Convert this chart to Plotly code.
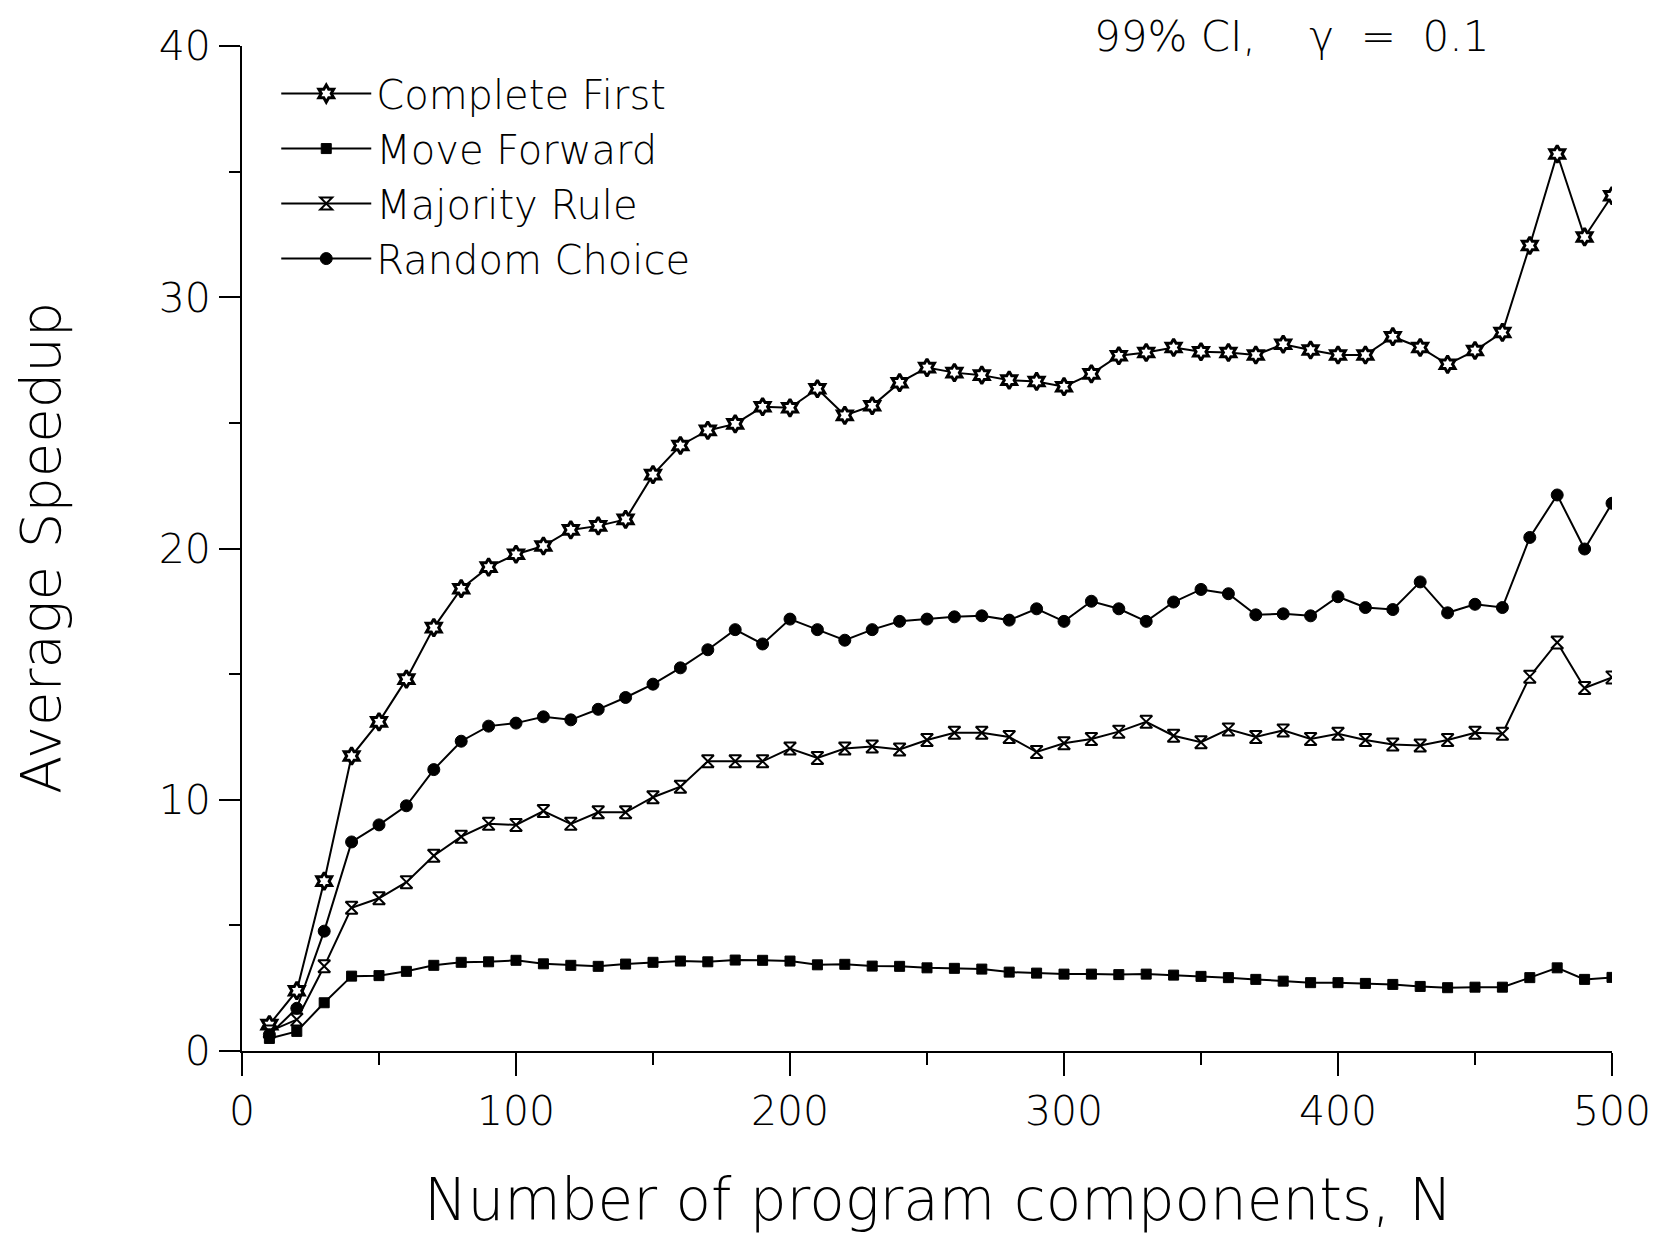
import plotly.graph_objects as go

# Number of program components
n_components = list(range(10, 501, 10))

complete_first = [
    1.05, 2.4, 6.76, 11.74, 13.1, 14.8, 16.85, 18.4, 19.26, 19.77,
    20.1, 20.74, 20.9, 21.16, 22.94, 24.1, 24.7, 24.96, 25.64, 25.6,
    26.36, 25.3, 25.68, 26.6, 27.2, 27.0, 26.9, 26.7, 26.65, 26.44,
    26.95, 27.67, 27.8, 28.0, 27.83, 27.8, 27.7, 28.13, 27.9, 27.7,
    27.7, 28.43, 28.0, 27.33, 27.88, 28.6, 32.06, 35.7, 32.4, 34.04,
]

move_forward = [
    0.5, 0.78, 1.92, 2.98, 3.0, 3.17, 3.41, 3.53, 3.55, 3.61,
    3.47, 3.41, 3.37, 3.46, 3.53, 3.58, 3.55, 3.62, 3.61, 3.58,
    3.43, 3.45, 3.38, 3.37, 3.31, 3.29, 3.26, 3.14, 3.1, 3.06,
    3.06, 3.04, 3.06, 3.02, 2.97, 2.92, 2.85, 2.78, 2.72, 2.72,
    2.69, 2.65, 2.57, 2.52, 2.54, 2.54, 2.92, 3.31, 2.85, 2.93,
]

majority_rule = [
    0.78, 1.25, 3.37, 5.7, 6.08, 6.72, 7.77, 8.53, 9.04, 9.0,
    9.55, 9.04, 9.5, 9.5, 10.1, 10.52, 11.53, 11.53, 11.53, 12.04,
    11.66, 12.04, 12.12, 12.0, 12.38, 12.67, 12.67, 12.5, 11.9, 12.25,
    12.42, 12.71, 13.1, 12.55, 12.29, 12.8, 12.5, 12.76, 12.42, 12.63,
    12.38, 12.2, 12.16, 12.38, 12.67, 12.63, 14.9, 16.26, 14.45, 14.87,
]

random_choice = [
    0.65, 1.7, 4.77, 8.32, 9.0, 9.76, 11.2, 12.33, 12.93, 13.05,
    13.3, 13.18, 13.6, 14.07, 14.6, 15.25, 15.97, 16.77, 16.2, 17.19,
    16.77, 16.35, 16.77, 17.1, 17.19, 17.28, 17.32, 17.15, 17.6, 17.1,
    17.9, 17.6, 17.1, 17.87, 18.37, 18.2, 17.36, 17.4, 17.32, 18.08,
    17.65, 17.57, 18.67, 17.44, 17.78, 17.65, 20.44, 22.13, 19.98, 21.8,
]

x_tick_vals = [0, 100, 200, 300, 400, 500]
y_tick_vals = [0, 10, 20, 30, 40]

FONT = "DejaVu Sans"
WEIGHT = 200
INK = "black"


def font(size):
    return dict(family=FONT, size=size, color=INK, weight=WEIGHT)


series = [
    ("Complete First", complete_first,
     dict(symbol="hexagram", size=13, color="white", line=dict(color=INK, width=3))),
    ("Move Forward", move_forward,
     dict(symbol="square", size=10, color=INK, line=dict(color=INK, width=1))),
    ("Majority Rule", majority_rule,
     dict(symbol="hourglass", size=12, color="white", line=dict(color=INK, width=2))),
    ("Random Choice", random_choice,
     dict(symbol="circle", size=12, color=INK, line=dict(color=INK, width=1))),
]

fig = go.Figure()
for name, values, marker in series:
    fig.add_trace(go.Scatter(
        x=n_components, y=values, name=name,
        mode="lines+markers",
        line=dict(color=INK, width=2),
        marker=marker,
    ))

axis_common = dict(
    showline=True, linecolor=INK, linewidth=2,
    ticks="outside", tickcolor=INK, tickwidth=2,
    showgrid=False, zeroline=False,
    tickfont=font(41),
)

fig.update_xaxes(
    range=[0, 500], tickvals=x_tick_vals, ticklen=23,
    minor=dict(dtick=50, ticks="outside", ticklen=12, tickwidth=2, tickcolor=INK),
    **axis_common,
)
fig.update_yaxes(
    range=[0, 40], tickvals=y_tick_vals, ticklen=21,
    minor=dict(dtick=5, ticks="outside", ticklen=11, tickwidth=2, tickcolor=INK),
    **axis_common,
)

fig.update_layout(
    width=1664, height=1233,
    margin=dict(l=242, r=52, t=46, b=182),
    paper_bgcolor="white", plot_bgcolor="white",
    font=font(36),
    showlegend=True,
    legend=dict(
        x=0.025, y=0.985, xanchor="left", yanchor="top",
        bgcolor="rgba(0,0,0,0)",
        font=font(40),
        itemwidth=90,
    ),
    annotations=[
        dict(text="Number of program components, N", xref="paper", yref="paper",
             x=0.508, y=-0.148, xanchor="center", yanchor="middle", showarrow=False,
             font=font(58)),
        dict(text="Average Speedup", xref="paper", yref="paper",
             x=-0.147, y=0.5, xanchor="center", yanchor="middle", showarrow=False,
             textangle=-90, font=font(56)),
        dict(text="99% CI,\u00a0\u00a0\u00a0 γ \u00a0=\u00a0 0.1", xref="paper", yref="paper",
             x=0.766, y=1.0096, xanchor="center", yanchor="middle", showarrow=False,
             font=font(42)),
    ],
)

fig.write_html("out.html")
